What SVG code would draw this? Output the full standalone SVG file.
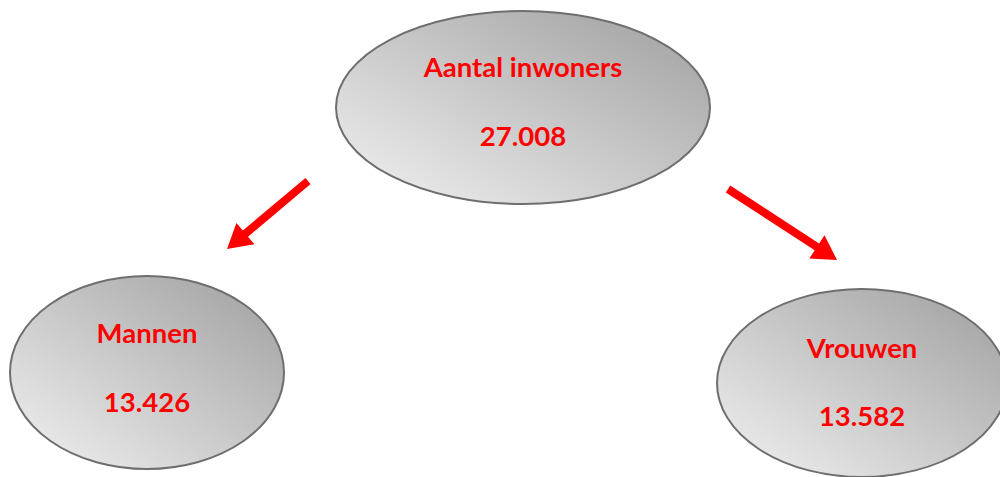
<svg xmlns="http://www.w3.org/2000/svg" width="1000" height="477" viewBox="0 0 1000 477">
<defs>
<linearGradient id="g" x1="0" y1="1" x2="1" y2="0">
<stop offset="0" stop-color="#f2f2f2"/>
<stop offset="1" stop-color="#9e9e9e"/>
</linearGradient>
<style>
.node ellipse{fill:url(#g);stroke:#6e6e6e;stroke-width:2}
.node text{font-family:Lato,"Open Sans","Liberation Sans",sans-serif;font-weight:bold;font-size:27.5px;fill:#ff0000;text-anchor:middle}
.conn polygon{fill:#ff0000;stroke:none}
</style>
</defs>
<rect width="1000" height="477" fill="#ffffff"/>
<g id="connectors" class="conn">
<polygon points="310.6,184.1 248,236.7 254.4,244.3 227,249 236.4,222.9 242.8,230.5 305.4,177.9"/>
<polygon points="725.8,192.4 814.7,250.3 809.3,258.6 837,260 824.5,235.2 819.1,243.5 730.2,185.6"/>
</g>
<g id="node-aantal" class="node">
<ellipse cx="523" cy="107.5" rx="187" ry="96.5"/>
<text x="523" y="77">Aantal inwoners</text>
<text x="523" y="146">27.008</text>
</g>
<g id="node-mannen" class="node">
<ellipse cx="147" cy="372.5" rx="137" ry="96.5"/>
<text x="147" y="343">Mannen</text>
<text x="147" y="412">13.426</text>
</g>
<g id="node-vrouwen" class="node">
<ellipse cx="862" cy="383" rx="145" ry="94"/>
<text x="862" y="358">Vrouwen</text>
<text x="862" y="426">13.582</text>
</g>
</svg>
